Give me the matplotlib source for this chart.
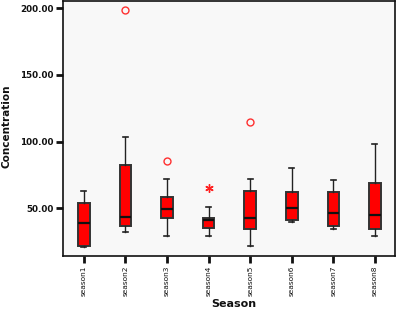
import matplotlib
matplotlib.use("Agg")
import matplotlib.pyplot as plt

categories = ["season1", "season2", "season3", "season4", "season5", "season6", "season7", "season8"]
whisker_low = [21.0, 32.2, 29.2, 29.2, 22.0, 39.5, 34.2, 29.2]
q1 = [22.0, 36.7, 42.7, 35.4, 34.7, 41.5, 36.7, 34.7]
median = [39.2, 43.7, 49.7, 41.0, 43.0, 50.2, 46.5, 45.2]
q3 = [54.2, 82.5, 58.5, 42.7, 63.2, 62.0, 62.5, 69.2]
whisker_high = [63.2, 103.7, 72.0, 50.7, 72.0, 80.0, 71.5, 98.2]
outliers_circle = [[], [198.5], [85.2], [], [115.0], [], [], []]
outliers_star = [[], [], [], [65.0], [], [], [], []]
yticks = [50, 100, 150, 200]
ytick_labels = ["50.00", "100.00", "150.00", "200.00"]

fig = plt.figure(figsize=(3.97, 3.12), dpi=100)
ax = fig.add_axes([0.1587, 0.1795, 0.836, 0.8157])
ax.set_facecolor("#f8f8f8")

stats = []
for i, c in enumerate(categories):
    stats.append(dict(label=c, whislo=whisker_low[i], q1=q1[i], med=median[i],
                      q3=q3[i], whishi=whisker_high[i], fliers=[]))
positions = list(range(1, len(categories) + 1))
ax.bxp(stats, positions=positions, widths=0.28, patch_artist=True, showfliers=False,
       boxprops=dict(facecolor="#ff0000", edgecolor="#333333", linewidth=1.4),
       medianprops=dict(color="#111111", linewidth=1.6),
       whiskerprops=dict(color="#222222", linewidth=1.0),
       capprops=dict(color="#222222", linewidth=1.2),
       capwidths=0.12)

for i, vals in enumerate(outliers_circle):
    if vals:
        ax.plot([positions[i]] * len(vals), vals, linestyle="none", marker="o",
                markersize=5, markerfacecolor="none", markeredgecolor="#ff3030",
                markeredgewidth=1.0)
for i, vals in enumerate(outliers_star):
    if vals:
        ax.plot([positions[i]] * len(vals), vals, linestyle="none", marker=(6, 2, 0),
                markersize=6, markeredgecolor="#ff2020", markeredgewidth=1.0)

ax.set_xlim(0.5, 8.48)
ax.set_ylim(14.2, 205.1)
ax.set_xticks(positions)
ax.set_xticklabels(categories, rotation=90, fontsize=5.3, color="#111111")
ax.set_yticks(yticks)
ax.set_yticklabels(ytick_labels, fontsize=6.3, fontweight="bold", color="#111111")
ax.tick_params(axis="both", direction="out", length=5, width=2, color="#111111", pad=2)
for s in ax.spines.values():
    s.set_linewidth(1.2)
    s.set_color("#111111")

fig.text(7 / 397, 1 - 126 / 312, "Concentration", rotation=90, fontsize=7.5,
         fontweight="bold", ha="center", va="center", color="#111111")
fig.text(234 / 397, 1 - 304 / 312, "Season", fontsize=8, fontweight="bold",
         ha="center", va="center", color="#111111")

fig.savefig("out.png", dpi=100)
